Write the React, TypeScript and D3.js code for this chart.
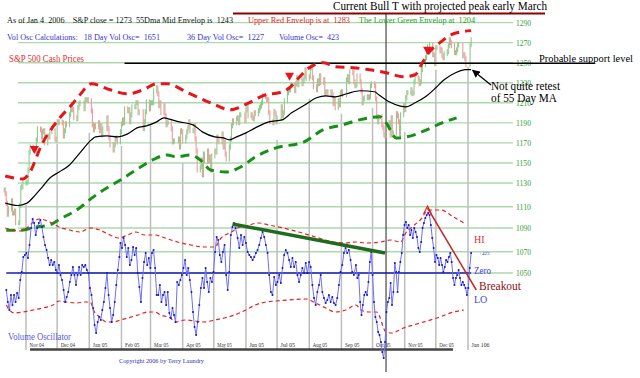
import React from "react";
import * as d3 from "d3";

// ---------- S&P 500 daily closes (trading days, per month) ----------
const oct04 = [1124,1121,1113,1103,1108,1115,1104,1104,1106,1095,1095,1111,1126,1127,1130];
const nov04 = [1130,1131,1143,1161,1166,1164,1164,1162,1173,1184,1183,1176,1181,1182,1170,1177,1176,1181,1182,1174,1173];
const dec04 = [1191,1190,1191,1190,1177,1182,1189,1188,1198,1203,1205,1203,1195,1194,1205,1209,1210,1204,1213,1213,1213,1212];
const jan05 = [1202,1188,1183,1187,1186,1190,1182,1187,1178,1184,1195,1184,1175,1168,1163,1168,1174,1175,1171,1181];
const feb05 = [1189,1193,1190,1204,1202,1203,1191,1198,1206,1206,1210,1210,1200,1201,1184,1191,1201,1211,1204];
const mar05 = [1210,1210,1210,1222,1225,1219,1207,1210,1200,1207,1197,1188,1190,1190,1184,1171,1172,1172,1174,1166,1182,1181];
const apr05 = [1172,1176,1181,1185,1191,1182,1182,1187,1174,1162,1143,1146,1153,1138,1159,1152,1162,1152,1156,1143,1157];
const may05 = [1162,1161,1176,1172,1171,1179,1166,1171,1159,1154,1166,1174,1187,1192,1190,1194,1195,1190,1198,1198,1192];
const jun05 = [1203,1205,1197,1198,1195,1194,1200,1199,1202,1205,1207,1210,1217,1216,1213,1213,1200,1191,1190,1201,1199,1191];
const jul05 = [1195,1206,1197,1200,1212,1220,1223,1223,1227,1228,1222,1229,1235,1228,1234,1229,1232,1236,1243,1234];
const aug05 = [1236,1245,1246,1235,1226,1223,1232,1229,1237,1230,1233,1219,1221,1221,1219,1221,1218,1209,1213,1205,1212,1208,1220];
const sep05 = [1221,1218,1233,1236,1231,1241,1240,1231,1227,1228,1237,1231,1222,1210,1214,1215,1216,1215,1216,1227,1229];
const oct05 = [1227,1214,1196,1191,1196,1188,1185,1178,1177,1186,1190,1178,1195,1178,1180,1199,1197,1191,1179,1198,1207];
const nov05 = [1203,1215,1220,1220,1223,1219,1220,1231,1235,1234,1229,1231,1243,1248,1255,1261,1266,1268,1258,1258,1249];
const dec05 = [1265,1265,1262,1263,1257,1255,1259,1261,1267,1273,1270,1267,1260,1260,1263,1268,1268,1257,1258,1254,1248];
const jan06 = [1268,1273];

const holidays = ["2004-11-25","2004-12-24","2005-01-17","2005-02-21","2005-03-25","2005-05-30","2005-07-04","2005-09-05","2005-11-24","2005-12-26","2006-01-02"];

const priceMonths: [number, number, number, number[]][] = [
  [2004, 9, 11, oct04], [2004, 10, 1, nov04], [2004, 11, 1, dec04],
  [2005, 0, 1, jan05], [2005, 1, 1, feb05], [2005, 2, 1, mar05], [2005, 3, 1, apr05],
  [2005, 4, 1, may05], [2005, 5, 1, jun05], [2005, 6, 1, jul05], [2005, 7, 1, aug05],
  [2005, 8, 1, sep05], [2005, 9, 1, oct05], [2005, 10, 1, nov05], [2005, 11, 1, dec05],
  [2006, 0, 1, jan06],
];

// ---------- 55 day moving average & envelopes ----------
const movingAvg55: [string, number][] = [
  ["2004-10-12",1113],["2004-10-24",1111],["2004-11-02",1113],["2004-11-08",1118],["2004-11-17",1127],
  ["2004-11-24",1135],["2004-12-03",1141],["2004-12-13",1148],["2004-12-23",1160],["2005-01-03",1173],
  ["2005-01-07",1176],["2005-01-18",1177],["2005-01-28",1176],["2005-02-07",1179],["2005-02-16",1185],
  ["2005-02-25",1187],["2005-03-07",1191],["2005-03-14",1195],["2005-03-18",1194],["2005-03-29",1191],
  ["2005-04-11",1188],["2005-04-20",1181],["2005-05-02",1176],["2005-05-10",1175],["2005-05-16",1173],
  ["2005-05-23",1176],["2005-06-01",1180],["2005-06-10",1185],["2005-06-23",1191],["2005-07-06",1193],
  ["2005-07-15",1200],["2005-07-28",1208],["2005-08-08",1215],["2005-08-17",1217],["2005-08-26",1216],
  ["2005-09-06",1219],["2005-09-19",1222],["2005-10-03",1221],["2005-10-07",1218],["2005-10-17",1211],
  ["2005-10-27",1207],["2005-11-02",1206],["2005-11-11",1210],["2005-11-21",1216],["2005-12-01",1225],
  ["2005-12-09",1233],["2005-12-20",1240],["2005-12-30",1243],["2006-01-04",1243],
];

const upperEnvelope: [string, number][] = [
  ["2004-10-12",1137],["2004-10-29",1134],["2004-11-03",1138],["2004-11-17",1170],["2004-12-02",1193],
  ["2004-12-15",1208],["2004-12-23",1218],["2005-01-03",1229],["2005-01-21",1223],["2005-02-07",1219],
  ["2005-02-22",1223],["2005-03-07",1229],["2005-03-17",1229],["2005-04-06",1220],["2005-04-28",1210],
  ["2005-05-17",1203],["2005-05-27",1206],["2005-06-04",1210],["2005-06-20",1218],["2005-07-03",1220],
  ["2005-07-13",1225],["2005-07-22",1235],["2005-08-01",1245],["2005-08-15",1250],["2005-08-26",1246],
  ["2005-09-12",1245],["2005-09-28",1243],["2005-10-14",1240],["2005-10-31",1236],["2005-11-11",1238],
  ["2005-11-18",1250],["2005-11-25",1261],["2005-12-05",1270],["2005-12-16",1278],["2005-12-27",1281],
  ["2006-01-04",1282],
];

const lowerEnvelope: [string, number][] = [
  ["2004-10-13",1088],["2004-10-26",1088],["2004-11-11",1091],["2004-11-24",1093],["2004-12-03",1098],
  ["2004-12-23",1109],["2005-01-03",1117],["2005-01-11",1122],["2005-01-31",1133],["2005-02-18",1145],
  ["2005-03-03",1153],["2005-03-17",1158],["2005-03-26",1156],["2005-04-08",1158],["2005-04-18",1153],
  ["2005-04-28",1143],["2005-05-13",1141],["2005-05-27",1146],["2005-06-10",1156],["2005-06-30",1165],
  ["2005-07-27",1171],["2005-08-14",1183],["2005-09-02",1188],["2005-09-18",1193],["2005-10-08",1196],
  ["2005-10-14",1190],["2005-10-24",1175],["2005-11-03",1176],["2005-11-22",1183],["2005-12-07",1190],
  ["2005-12-21",1195],
];

const envelopeMarkers: [string, number][] = [["2004-11-09",1163],["2005-07-13",1236],["2005-11-23",1262]];

const supportLevel = 1249.5;
const supportFrom = "2005-02-04";
const supportTo = "2006-05-03";
const eventDate = "2005-10-14";

// ---------- Volume oscillator (chart units), four stretches ----------
const oscA = [-17,-29,-37,-22,-32,-22,-29,-20,-25,-7,1,16,18,20,15,28,45,54,50,38,45,50,53,46,36,28,23,15,8,13,8,11,3,0,8,-2,-7,-17,-29,-24,-19,-9,-2,6,-2,-12,-2,6,-2,8,6,8,3,0,-15,-22,-35,-52,-60,-49,-44,-47,-37,-29,-15,0,-22,-35,-49,-42,-29,-12,3,16];
const oscB = [30,25,35,28,16,25,8,13,26,18,25,0,-14,-29,-5,11,20,8,15,5,20,23,5,-22,-22,-12,-29,-22,-19,-32,-19,-40,-45,-35,-42,-49,-9,-12,-7,-2,5,13,-2,5,-7,-19,-39,-54,-62,-49,-32,-15,-5,-15,5,-9,-19,-5,-9,1,21,36,33,18,11,21,28,-2,-17,1,38,46,50,45];
const oscC = [35,25,38,28,36,30,21,18,16,13,16,20,23,28,35,41,36,28,20,-2,-19,-22,-4,-12,-9,-2,-10,5,18,23,20,13,6,15,6,11,-2,-9,-2,5,0,10,0,11,6,-12,-25,-32,-19,-12,-2,-19,-25,-30,-27,-22,-29,-24,-30,-32,-25,-12,1,8,20,25,20,23,13,1,-2];
const oscD = [8,-5,-2,-29,-42,-32,-22,-19,-22,-9,11,21,-2,-29,-44,-49,-59,-62,-69,-79,-85,-69,-39,-29,-25,-10,-32,-19,10,1,-19,1,11,20,38,48,51,45,48,38,43,35,45,41,36,25,21,31,45,50,55,58,60,58,48,35,25,11,18,15,8,15,8,1,6,13,11,16,20,11,-5,-12,-5,-2,3,-5,-12,-9,-12,-15,-22,-15,5,20];
const oscSpans: [string, string, number[]][] = [
  ["2004-10-13","2005-01-30",oscA],["2005-01-31","2005-05-22",oscB],
  ["2005-05-24","2005-09-13",oscC],["2005-09-15","2006-01-04",oscD],
];

const oscUpperBand: [string, number][] = [
  ["2004-10-12",45],["2004-10-19",43],["2004-10-26",42],["2004-11-03",46],["2004-11-08",51],["2004-11-14",54],
  ["2004-11-24",51],["2004-12-03",46],["2004-12-13",43],["2004-12-23",41],["2005-01-02",45],["2005-01-11",43],
  ["2005-01-21",38],["2005-01-29",35],["2005-02-07",38],["2005-02-15",41],["2005-02-23",38],["2005-03-05",38],
  ["2005-03-15",35],["2005-03-27",31],["2005-04-09",28],["2005-04-22",26],["2005-05-02",26],["2005-05-08",35],
  ["2005-05-18",41],["2005-05-24",45],["2005-06-04",48],["2005-06-13",50],["2005-06-23",48],["2005-07-07",45],
  ["2005-07-22",41],["2005-08-07",36],["2005-08-24",31],["2005-09-05",30],["2005-09-15",31],["2005-09-25",30],
  ["2005-10-09",31],["2005-10-18",33],["2005-10-28",31],["2005-11-02",40],["2005-11-08",46],["2005-11-16",53],
  ["2005-11-24",63],["2005-12-06",63],["2005-12-18",56],["2005-12-28",50],
];
const oscLowerBand: [string, number][] = [
  ["2004-10-13",-32],["2004-10-16",-37],["2004-10-21",-40],["2004-10-29",-39],["2004-11-08",-37],["2004-11-17",-35],
  ["2004-11-27",-32],["2004-12-03",-28],["2004-12-10",-29],["2004-12-20",-30],["2004-12-28",-29],["2005-01-02",-29],
  ["2005-01-05",-37],["2005-01-11",-44],["2005-01-18",-49],["2005-01-24",-49],["2005-01-31",-47],["2005-02-07",-45],
  ["2005-02-17",-42],["2005-02-26",-39],["2005-03-05",-39],["2005-03-11",-42],["2005-03-20",-45],["2005-03-25",-49],
  ["2005-04-03",-47],["2005-04-13",-48],["2005-04-22",-49],["2005-05-02",-47],["2005-05-11",-45],["2005-05-21",-42],
  ["2005-06-01",-37],["2005-06-10",-32],["2005-06-20",-29],["2005-06-30",-28],["2005-07-12",-27],["2005-07-29",-26],
  ["2005-08-07",-30],["2005-08-17",-35],["2005-08-26",-39],["2005-09-05",-37],["2005-09-15",-32],["2005-09-20",-37],
  ["2005-09-27",-39],["2005-10-05",-39],["2005-10-14",-59],["2005-10-19",-60],["2005-10-31",-55],["2005-11-16",-50],
  ["2005-12-02",-45],["2005-12-18",-39],["2005-12-28",-37],
];
const oscTrendLine: [string, number][] = [["2005-05-19",49],["2005-10-13",20]];
const breakoutLine: [string, number][] = [["2005-11-23",65],["2006-01-09",-17]];

const priceTicks = [1290,1270,1250,1230,1210,1190,1170,1150,1130,1110,1090,1070,1050];
const monthLabels = ["Nov 04","Dec 04","Jan 05","Feb 05","Mar 05","Apr 05","May 05","Jun 05","Jul 05","Aug 05","Sep 05","Oct 05","Nov 05","Dec 05","Jan 106"];

const parse = d3.timeParse("%Y-%m-%d") as (s: string) => Date;
const fmt = d3.timeFormat("%Y-%m-%d");

function buildDaily() {
  const out: { date: Date; close: number }[] = [];
  for (const [yr, mo, startDay, vals] of priceMonths) {
    const d = new Date(yr, mo, startDay);
    let k = 0;
    while (k < vals.length && d.getMonth() === mo) {
      const dow = d.getDay();
      if (dow !== 0 && dow !== 6 && !holidays.includes(fmt(d))) {
        out.push({ date: new Date(d.getTime()), close: vals[k] });
        k++;
      }
      d.setDate(d.getDate() + 1);
    }
  }
  return out;
}

const SERIF = "'Liberation Serif','Times New Roman',serif";

export default function App() {
  React.useEffect(() => {
    document.body.style.margin = "0";
  }, []);

  const x = d3.scaleTime().domain([new Date(2004, 10, 1), new Date(2006, 0, 1)]).range([26, 468]);
  const y = d3.scaleLinear().domain([1050, 1070, 1090, 1110, 1130, 1290]).range([273, 251.7, 228, 206.7, 183, 22.6]);
  const oy = d3.scaleLinear().domain([-100, 100]).range([373, 173]);

  const daily = buildDaily();

  const priceLine = d3.line<[string, number]>().x(d => x(parse(d[0]))).y(d => y(d[1])).curve(d3.curveMonotoneX);
  const oscBandLine = d3.line<[string, number]>().x(d => x(parse(d[0]))).y(d => oy(d[1])).curve(d3.curveMonotoneX);
  const straightOsc = d3.line<[string, number]>().x(d => x(parse(d[0]))).y(d => oy(d[1]));

  const oscPts: [Date, number][] = [];
  oscSpans.forEach(([s, e, vals]) => {
    const t0 = parse(s).getTime();
    const t1 = parse(e).getTime();
    vals.forEach((v, i) => oscPts.push([new Date(t0 + ((t1 - t0) * i) / (vals.length - 1)), v]));
  });
  const oscPath = d3.line<[Date, number]>().x(d => x(d[0])).y(d => oy(d[1]))(oscPts) || "";

  const months = d3.timeMonth.range(new Date(2004, 10, 1), new Date(2006, 0, 2));
  const oscStart = oscPts[0][0];
  const oscEnd = oscPts[oscPts.length - 1][0];
  const lastOsc = oscPts[oscPts.length - 1];

  const lastMA = movingAvg55[movingAvg55.length - 1];
  const headX = x(parse(lastMA[0]));
  const headY = y(lastMA[1]);
  const bk0 = breakoutLine[0];

  return (
    <svg width={640} height={378} style={{ display: "block", position: "absolute", left: 0, top: 0, background: "#fff" }} fontFamily={SERIF}>
      <defs>
        <marker id="ah" viewBox="0 0 10 10" refX="9" refY="5" markerWidth="6" markerHeight="6" orient="auto">
          <path d="M0,0 L10,5 L0,10 z" fill="#000" />
        </marker>
      </defs>
      <rect width={640} height={378} fill="#fff" />

      {/* horizontal price gridlines */}
      {priceTicks.map(t => (
        <line key={t} x1={18} x2={513} y1={y(t)} y2={y(t)} stroke="#acd9ac" strokeWidth={1.4} />
      ))}
      {priceTicks.map(t => (
        <text key={"l" + t} x={516} y={y(t) + 3} fontSize={8.5} fill="#33a033" textLength={15} lengthAdjust="spacingAndGlyphs">{t}</text>
      ))}

      {/* month verticals */}
      {months.map((m, i) => {
        const first = daily.find(d => d.date >= m);
        const top = first ? y(first.close) + 22 : 60;
        return <line key={"m" + i} x1={x(m)} x2={x(m)} y1={top} y2={350} stroke="#bdbdbd" strokeWidth={1.5} />;
      })}
      <line x1={30} x2={453} y1={349.5} y2={349.5} stroke="#444" strokeWidth={2.4} />
      {months.map((m, i) => (
        <text key={"ml" + i} x={x(m) + 3.5} y={347} fontSize={6.5} fill="#333"
          textLength={monthLabels[i].length > 6 ? 18 : 14.5} lengthAdjust="spacingAndGlyphs">{monthLabels[i]}</text>
      ))}

      {/* event vertical */}
      <line x1={x(parse(eventDate))} x2={x(parse(eventDate))} y1={14} y2={372} stroke="#555" strokeWidth={1.3} />

      {/* price bars */}
      {daily.map((d, i) => {
        const prev = i > 0 ? daily[i - 1].close : d.close;
        const ya = y(prev);
        const yb = y(d.close);
        const up = d.close >= prev;
        return (
          <line key={"b" + i} x1={x(d.date)} x2={x(d.date)} y1={Math.min(ya, yb) - 2.5} y2={Math.max(ya, yb) + 2.5}
            stroke={up ? "#8ccc8c" : "#f39a9a"} strokeWidth={1.1} />
        );
      })}

      {/* support line */}
      <line x1={x(parse(supportFrom))} x2={x(parse(supportTo))} y1={y(supportLevel)} y2={y(supportLevel)} stroke="#000" strokeWidth={1.4} />

      {/* envelopes and MA */}
      <path d={priceLine(lowerEnvelope) || ""} fill="none" stroke="#169016" strokeWidth={3} strokeDasharray="9,6" />
      <path d={priceLine(upperEnvelope) || ""} fill="none" stroke="#e8141c" strokeWidth={3} strokeDasharray="9,6" />
      <path d={priceLine(movingAvg55) || ""} fill="none" stroke="#000" strokeWidth={1.2} />
      {envelopeMarkers.map((m, i) => {
        const cx = x(parse(m[0]));
        const cy = y(m[1]);
        return <path key={"tri" + i} d={`M${cx - 4.5},${cy - 4} L${cx + 4.5},${cy - 4} L${cx},${cy + 4} Z`} fill="#e8141c" />;
      })}

      {/* oscillator bands */}
      <path d={oscBandLine(oscUpperBand) || ""} fill="none" stroke="#e82020" strokeWidth={1.2} strokeDasharray="4,3" />
      <path d={oscBandLine(oscLowerBand) || ""} fill="none" stroke="#e82020" strokeWidth={1.2} strokeDasharray="4,3" />

      {/* zero line */}
      <line x1={x(oscStart)} x2={x(oscEnd)} y1={oy(0)} y2={oy(0)} stroke="#1a1ab4" strokeWidth={1.6} />

      {/* oscillator */}
      <path d={oscPath} fill="none" stroke="#6f6ff2" strokeWidth={1} />
      {oscPts.map((p, i) => (
        <circle key={"o" + i} cx={x(p[0])} cy={oy(p[1])} r={1} fill="#1414c8" />
      ))}

      {/* trend lines */}
      <path d={straightOsc(oscTrendLine) || ""} fill="none" stroke="#1e6b1e" strokeWidth={3.5} />
      <path d={straightOsc(breakoutLine) || ""} fill="none" stroke="#c62828" strokeWidth={1.5} />
      <path d={`M${x(parse(bk0[0])) - 4},${oy(bk0[1]) + 6} L${x(parse(bk0[0]))},${oy(bk0[1]) - 2} L${x(parse(bk0[0])) + 4},${oy(bk0[1]) + 6}`}
        fill="none" stroke="#e02020" strokeWidth={1.1} />

      {/* header texts */}
      <text x={333} y={10} fontSize={12} fill="#000" textLength={214} lengthAdjust="spacingAndGlyphs">Current Bull T with projected peak early March</text>
      <line x1={233} x2={545} y1={13.5} y2={13.5} stroke="#8b0000" strokeWidth={2.2} />
      <text x={7} y={22.5} fontSize={9} fill="#111" style={{ whiteSpace: "pre" }} textLength={226} lengthAdjust="spacingAndGlyphs">As of Jan 4  2006    S&amp;P close = 1273  55Dma Mid Envelop is  1243</text>
      <text x={248} y={22.5} fontSize={9} fill="#e02020" style={{ whiteSpace: "pre" }} textLength={102} lengthAdjust="spacingAndGlyphs">Upper Red Envelop is at  1283</text>
      <text x={359} y={22.5} fontSize={9} fill="#22a022" style={{ whiteSpace: "pre" }} textLength={116} lengthAdjust="spacingAndGlyphs">The Lower Green Envelop at  1204</text>
      <text x={7} y={40} fontSize={9} fill="#3333cc" style={{ whiteSpace: "pre" }} textLength={153} lengthAdjust="spacingAndGlyphs">Vol Osc Calculations:   18 Day Vol Osc=  1651</text>
      <text x={187} y={40} fontSize={9} fill="#3333cc" style={{ whiteSpace: "pre" }} textLength={77} lengthAdjust="spacingAndGlyphs">36 Day Vol Osc=  1227</text>
      <text x={279} y={40} fontSize={9} fill="#3333cc" style={{ whiteSpace: "pre" }} textLength={60} lengthAdjust="spacingAndGlyphs">Volume Osc=  423</text>
      <text x={9} y={62} fontSize={9.5} fill="#e03030" textLength={75} lengthAdjust="spacingAndGlyphs">S&amp;P 500 Cash Prices</text>

      {/* annotations */}
      <text x={539} y={62} fontSize={10.5} fill="#000" textLength={94} lengthAdjust="spacingAndGlyphs">Probable support level</text>
      <text x={491} y={90} fontSize={11.5} fill="#000" textLength={69} lengthAdjust="spacingAndGlyphs">Not quite retest</text>
      <text x={491} y={102} fontSize={11.5} fill="#000" textLength={66} lengthAdjust="spacingAndGlyphs">of 55 Day MA</text>
      <line x1={491} y1={85} x2={headX + 1.5} y2={headY + 0.5} stroke="#000" strokeWidth={1.3} markerEnd="url(#ah)" />

      <text x={474} y={243} fontSize={10} fill="#e03030">HI</text>
      <text x={474} y={274} fontSize={10} fill="#4444dd" textLength={17} lengthAdjust="spacingAndGlyphs">Zero</text>
      <text x={474} y={303} fontSize={10} fill="#4444dd">LO</text>
      <text x={x(lastOsc[0]) + 8} y={oy(lastOsc[1]) + 2} fontSize={5} fill="#3333cc">+423</text>
      <text x={479} y={290} fontSize={11.5} fill="#8b1010" textLength={42} lengthAdjust="spacingAndGlyphs">Breakout</text>
      <text x={8} y={339.5} fontSize={9.5} fill="#5a5ae6" textLength={63} lengthAdjust="spacingAndGlyphs">Volume Oscillator</text>
      <text x={119} y={363} fontSize={6} fill="#3030c0" textLength={85} lengthAdjust="spacingAndGlyphs">Copyright 2006 by Terry Laundry</text>
    </svg>
  );
}
